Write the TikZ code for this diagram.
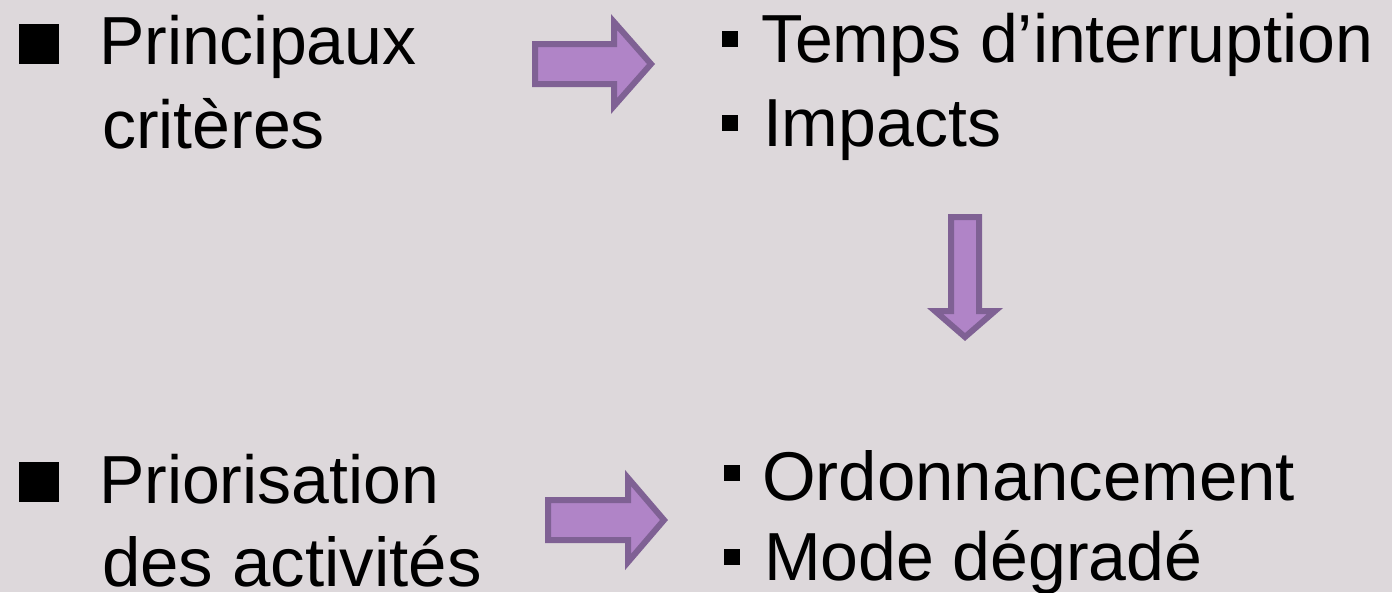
\documentclass[tikz,border=0pt]{standalone}
\usepackage{fontspec}
\setmainfont{Liberation Sans}
\definecolor{bg}{HTML}{DDD8DB}
\definecolor{arrowfill}{HTML}{B084C7}
\definecolor{arrowline}{HTML}{7F6194}
\begin{document}
\begin{tikzpicture}[x=1pt,y=-1pt,
  txt/.style={anchor=base west,inner sep=0pt,outer sep=0pt,font=\fontsize{68}{84}\selectfont},
  bigbullet/.style={fill=black,inner sep=0pt,minimum size=40pt},
  smallbullet/.style={fill=black,inner sep=0pt,minimum size=16pt},
  fatarrow/.style={fill=arrowfill,draw=arrowline,line width=6pt,line join=miter,miter limit=10}]
\fill[bg] (0,0) rectangle (1392,592);
\useasboundingbox (0,0) rectangle (1392,592);
% left texts
\node[bigbullet] (b1) at (39,44) {};
\node[txt] (t1) at (99,64) {Principaux};
\node[txt] (t2) at (102,148) {critères};
\node[bigbullet] (b2) at (39,482) {};
\node[txt] (t3) at (99,503) {Priorisation};
\node[txt,font=\fontsize{69}{84}\selectfont] (t4) at (102,586) {des activités};
% right texts
\node[smallbullet] (s1) at (730,39) {};
\node[txt] (r1) at (761,62) {Temps d’interruption};
\node[smallbullet] (s2) at (730,123) {};
\node[txt] (r2) at (763,146) {Impacts};
\node[smallbullet] (s3) at (732,473) {};
\node[txt,font=\fontsize{69}{84}\selectfont] (r3) at (762,500) {Ordonnancement};
\node[smallbullet] (s4) at (732,557) {};
\node[txt] (r4) at (764,580) {Mode dégradé};
% arrows
\draw[fatarrow] (535,44) -- (614,44) -- (614,22) -- (651,64) -- (614,106) -- (614,84) -- (535,84) -- cycle;
\draw[fatarrow] (548,500) -- (628,500) -- (628,478) -- (664,520) -- (628,562) -- (628,540) -- (548,540) -- cycle;
\draw[fatarrow] (951,217) -- (979,217) -- (979,311) -- (995,311) -- (965,337) -- (935,311) -- (951,311) -- cycle;
\end{tikzpicture}
\end{document}
